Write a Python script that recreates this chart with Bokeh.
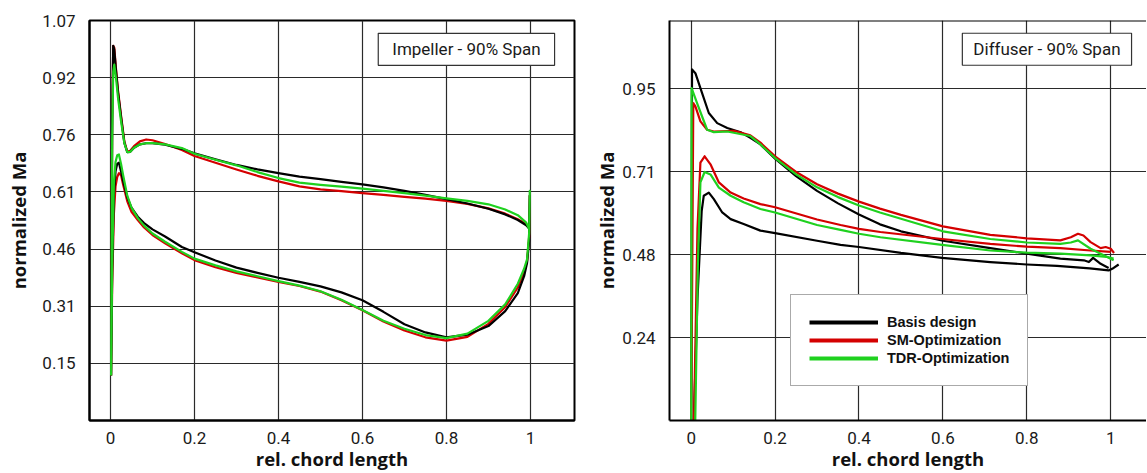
from bokeh.plotting import figure
from bokeh.layouts import row
from bokeh.models import FixedTicker, Label, Range1d, Span
from bokeh.embed import file_html
from bokeh.resources import INLINE

# ---------------- data ----------------
series_names = ["Basis design", "SM-Optimization", "TDR-Optimization"]
series_colors = ["#000000", "#d40000", "#1fd11f"]

x_ticks = [0, 0.2, 0.4, 0.6, 0.8, 1]
x_tick_labels = ["0", "0.2", "0.4", "0.6", "0.8", "1"]

imp_y_ticks = [0.1525, 0.305, 0.4575, 0.61, 0.7625, 0.915, 1.0675]
imp_y_labels = ["0.15", "0.31", "0.46", "0.61", "0.76", "0.92", "1.07"]
dif_y_ticks = [0.2375, 0.475, 0.7125, 0.95]
dif_y_labels = ["0.24", "0.48", "0.71", "0.95"]

# Impeller - suction side (LE -> TE)
imp_ss_x = [0.0015, 0.004, 0.0065, 0.009, 0.013, 0.018, 0.025, 0.033, 0.040, 0.047, 0.056, 0.070,
            0.085, 0.10, 0.13, 0.17, 0.2, 0.25, 0.3, 0.35, 0.4, 0.45, 0.5, 0.55, 0.6, 0.65, 0.7,
            0.75, 0.8, 0.85, 0.9, 0.94, 0.97, 0.99, 0.997]
imp_ss_basis = [0.12, 0.80, 1.0, 0.99, 0.935, 0.875, 0.81, 0.741, 0.716, 0.717, 0.728, 0.737,
                0.740, 0.740, 0.736, 0.725, 0.713, 0.697, 0.682, 0.670, 0.660, 0.651, 0.644, 0.637,
                0.630, 0.622, 0.613, 0.602, 0.591, 0.579, 0.565, 0.550, 0.535, 0.521, 0.512]
imp_ss_sm = [0.12, 0.80, 1.0, 0.995, 0.94, 0.88, 0.815, 0.745, 0.718, 0.720, 0.732, 0.745,
             0.750, 0.748, 0.738, 0.722, 0.706, 0.688, 0.670, 0.653, 0.638, 0.625, 0.617, 0.612,
             0.607, 0.602, 0.597, 0.592, 0.586, 0.578, 0.566, 0.552, 0.537, 0.524, 0.514]
imp_ss_tdr = [0.12, 0.75, 0.93, 0.95, 0.915, 0.86, 0.80, 0.74, 0.716, 0.717, 0.728, 0.737,
              0.740, 0.740, 0.737, 0.727, 0.712, 0.696, 0.681, 0.663, 0.647, 0.635, 0.629, 0.624,
              0.619, 0.613, 0.607, 0.600, 0.593, 0.586, 0.577, 0.563, 0.548, 0.528, 0.511]

# Impeller - pressure side (LE -> TE)
imp_ps_x = [0.0015, 0.004, 0.008, 0.012, 0.016, 0.020, 0.025, 0.03, 0.04, 0.05, 0.065, 0.08, 0.1,
            0.13, 0.17, 0.2, 0.25, 0.3, 0.35, 0.4, 0.45, 0.5, 0.55, 0.6, 0.65, 0.7, 0.75, 0.8,
            0.85, 0.9, 0.94, 0.97, 0.985, 0.992, 0.997, 0.9985]
imp_ps_basis = [0.12, 0.40, 0.60, 0.665, 0.685, 0.688, 0.665, 0.64, 0.595, 0.568, 0.544, 0.527,
                0.510, 0.491, 0.463, 0.449, 0.427, 0.408, 0.394, 0.381, 0.370, 0.358, 0.342, 0.321,
                0.290, 0.257, 0.235, 0.222, 0.229, 0.252, 0.292, 0.340, 0.385, 0.42, 0.48, 0.60]
imp_ps_sm = [0.12, 0.36, 0.55, 0.625, 0.65, 0.66, 0.655, 0.63, 0.585, 0.557, 0.535, 0.515, 0.495,
             0.473, 0.446, 0.428, 0.409, 0.394, 0.382, 0.370, 0.359, 0.344, 0.321, 0.294, 0.264,
             0.24, 0.222, 0.213, 0.223, 0.258, 0.303, 0.355, 0.397, 0.425, 0.49, 0.60]
imp_ps_tdr = [0.12, 0.42, 0.63, 0.69, 0.708, 0.71, 0.685, 0.655, 0.60, 0.568, 0.540, 0.520, 0.499,
              0.477, 0.450, 0.432, 0.414, 0.398, 0.385, 0.372, 0.360, 0.345, 0.322, 0.295, 0.266,
              0.245, 0.228, 0.220, 0.232, 0.266, 0.31, 0.365, 0.405, 0.43, 0.50, 0.613]

# Diffuser - suction side
dif_ss_basis_x = [0.0, 0.002, 0.010, 0.026, 0.042, 0.062, 0.086, 0.118, 0.141, 0.165, 0.2, 0.25,
                  0.3, 0.35, 0.4, 0.45, 0.5, 0.6, 0.713, 0.8, 0.88, 0.936, 0.948, 0.958,
                  0.976, 0.995]
dif_ss_basis = [-0.05, 1.006, 0.995, 0.938, 0.881, 0.852, 0.838, 0.826, 0.810, 0.791, 0.750, 0.700,
                0.658, 0.622, 0.590, 0.562, 0.542, 0.515, 0.494, 0.478, 0.464, 0.459, 0.454, 0.466,
                0.449, 0.437]
dif_ss_sm_x = [0.0, 0.005, 0.010, 0.022, 0.038, 0.054, 0.102, 0.141, 0.165, 0.2, 0.25, 0.3, 0.35,
               0.4, 0.45, 0.5, 0.6, 0.713, 0.8, 0.88, 0.905, 0.922, 0.935, 0.952, 0.976, 0.988,
               1.0, 1.008]
dif_ss_sm = [-0.05, 0.909, 0.900, 0.857, 0.833, 0.828, 0.830, 0.817, 0.796, 0.757, 0.712, 0.677,
             0.650, 0.627, 0.607, 0.589, 0.556, 0.532, 0.522, 0.516, 0.525, 0.535, 0.530, 0.511,
             0.494, 0.497, 0.492, 0.480]
dif_ss_tdr_x = [0.0, 0.001, 0.014, 0.026, 0.038, 0.054, 0.086, 0.141, 0.165, 0.2, 0.25, 0.3, 0.35,
                0.4, 0.45, 0.5, 0.6, 0.713, 0.8, 0.88, 0.905, 0.922, 0.952, 0.976, 1.007]
dif_ss_tdr = [-0.05, 0.952, 0.909, 0.871, 0.833, 0.826, 0.828, 0.815, 0.791, 0.752, 0.705, 0.668,
              0.640, 0.616, 0.596, 0.578, 0.542, 0.520, 0.510, 0.506, 0.510, 0.516, 0.492, 0.478,
              0.459]

# Diffuser - pressure side
dif_ps_basis_x = [0.005, 0.015, 0.025, 0.030, 0.042, 0.054, 0.074, 0.094, 0.125, 0.165, 0.2, 0.3,
                  0.356, 0.4, 0.5, 0.598, 0.713, 0.8, 0.872, 0.95, 0.995, 1.007, 1.019]
dif_ps_basis = [-0.05, 0.35, 0.60, 0.644, 0.653, 0.634, 0.596, 0.577, 0.563, 0.544, 0.537, 0.515,
                0.503, 0.497, 0.480, 0.466, 0.454, 0.447, 0.443, 0.436, 0.430, 0.437, 0.447]
dif_ps_sm_x = [0.006, 0.015, 0.022, 0.032, 0.046, 0.066, 0.094, 0.125, 0.165, 0.2, 0.3, 0.356,
               0.4, 0.451, 0.598, 0.713, 0.8, 0.88, 0.952, 1.0]
dif_ps_sm = [-0.05, 0.55, 0.739, 0.757, 0.734, 0.682, 0.653, 0.636, 0.620, 0.611, 0.576, 0.560,
             0.549, 0.540, 0.520, 0.506, 0.498, 0.494, 0.487, 0.483]
dif_ps_tdr_x = [0.009, 0.016, 0.022, 0.032, 0.046, 0.066, 0.094, 0.125, 0.165, 0.2, 0.3, 0.356,
                0.4, 0.451, 0.598, 0.713, 0.8, 0.88, 0.952, 0.99, 1.007]
dif_ps_tdr = [-0.05, 0.45, 0.682, 0.712, 0.705, 0.667, 0.644, 0.625, 0.606, 0.596, 0.560, 0.546,
              0.535, 0.525, 0.503, 0.487, 0.481, 0.478, 0.473, 0.469, 0.464]

# ---------------- styling helpers ----------------
TICK_FONT = "Roboto"
LABEL_FONT = "Open Sans"


def style(p, y_ticks, y_labels, ylab_standoff):
    xt = FixedTicker(ticks=x_ticks)
    yt = FixedTicker(ticks=y_ticks)
    p.xaxis.ticker = xt
    p.yaxis.ticker = yt
    p.xgrid.ticker = xt
    p.ygrid.ticker = yt
    p.xaxis.major_label_overrides = {t: l for t, l in zip(x_ticks, x_tick_labels)}
    p.yaxis.major_label_overrides = {t: l for t, l in zip(y_ticks, y_labels)}
    for ax in (p.xaxis[0], p.yaxis[0]):
        ax.major_tick_line_color = None
        ax.minor_tick_line_color = None
        ax.axis_line_width = 2
        ax.axis_line_color = "black"
        ax.major_label_text_font = TICK_FONT
        ax.major_label_text_font_size = "17px"
        ax.major_label_text_color = "#1a1a1a"
        ax.axis_label_text_font = LABEL_FONT
        ax.axis_label_text_font_style = "bold"
        ax.axis_label_text_font_size = "18.5px"
        ax.axis_label_text_color = "#111111"
    p.xaxis.axis_label = "rel. chord length"
    p.yaxis.axis_label = "normalized Ma"
    p.xaxis.major_label_standoff = 5
    p.xaxis.axis_label_standoff = -1
    p.yaxis.major_label_standoff = 8
    p.yaxis.axis_label_standoff = ylab_standoff
    for g in (p.xgrid[0], p.ygrid[0]):
        g.grid_line_color = "#2a2a2a"
        g.grid_line_width = 1.2
    p.background_fill_color = "white"
    p.border_fill_color = "white"


# ---------------- impeller ----------------
p1 = figure(width=580, height=473, output_backend="svg", toolbar_location=None,
            x_range=Range1d(-0.05, 1.105), y_range=Range1d(0, 1.0675),
            min_border_left=89, min_border_right=6, min_border_top=20, min_border_bottom=50)
style(p1, imp_y_ticks, imp_y_labels, 8)
p1.outline_line_color = "black"
p1.outline_line_width = 2

imp_ss = [imp_ss_basis, imp_ss_sm, imp_ss_tdr]
imp_ps = [imp_ps_basis, imp_ps_sm, imp_ps_tdr]
for i in [1, 0, 2]:
    lx = imp_ss_x + imp_ps_x[::-1]
    ly = imp_ss[i] + imp_ps[i][::-1]
    p1.line(lx, ly, line_color=series_colors[i], line_width=2.2, line_join="round")

p1.add_layout(Label(x=0.8476, y=0.9907, text="Impeller - 90% Span", text_font=TICK_FONT,
                    text_font_size="17px", text_color="#1a1a1a", text_align="center",
                    text_baseline="middle", border_line_color="#333333", border_line_width=1.2,
                    background_fill_color="white",
                    padding=dict(left=14, right=14, top=6, bottom=6)))

# ---------------- diffuser ----------------
p2 = figure(width=566, height=473, output_backend="svg", toolbar_location=None,
            x_range=Range1d(-0.0517, 1.0853), y_range=Range1d(0, 1.146),
            min_border_left=89, min_border_right=0, min_border_top=20, min_border_bottom=50)
style(p2, dif_y_ticks, dif_y_labels, 0)
p2.outline_line_color = None
p2.add_layout(Span(location=p2.y_range.end, dimension="width", line_color="black", line_width=2))

# legend-only glyphs (thicker legend lines, no visible data)
nan = float("nan")
for i in range(3):
    p2.line([nan], [nan], line_color=series_colors[i], line_width=4, legend_label=series_names[i])

dif_ss = [(dif_ss_basis_x, dif_ss_basis), (dif_ss_sm_x, dif_ss_sm), (dif_ss_tdr_x, dif_ss_tdr)]
dif_ps = [(dif_ps_basis_x, dif_ps_basis), (dif_ps_sm_x, dif_ps_sm), (dif_ps_tdr_x, dif_ps_tdr)]
for i in [0, 1, 2]:
    for xs, ys in (dif_ss[i], dif_ps[i]):
        p2.line(xs, ys, line_color=series_colors[i], line_width=2.2, line_join="round")

lg = p2.legend[0]
lg.location = (121, 34)
lg.label_text_font = "Liberation Sans"
lg.label_text_font_style = "bold"
lg.label_text_font_size = "14.5px"
lg.label_text_color = "#111111"
lg.glyph_width = 69
lg.glyph_height = 18
lg.label_height = 18
lg.label_standoff = 9
lg.spacing = 0
lg.padding = 18
lg.margin = 0
lg.border_line_color = "#555555"
lg.border_line_width = 1.2
lg.background_fill_alpha = 1.0

p2.add_layout(Label(x=0.848, y=1.0637, text="Diffuser - 90% Span", text_font=TICK_FONT,
                    text_font_size="17px", text_color="#1a1a1a", text_align="center",
                    text_baseline="middle", border_line_color="#333333", border_line_width=1.2,
                    background_fill_color="white",
                    padding=dict(left=11, right=11, top=6, bottom=6)))

layout = row(p1, p2)
open("out.html", "w").write(file_html(layout, INLINE))
